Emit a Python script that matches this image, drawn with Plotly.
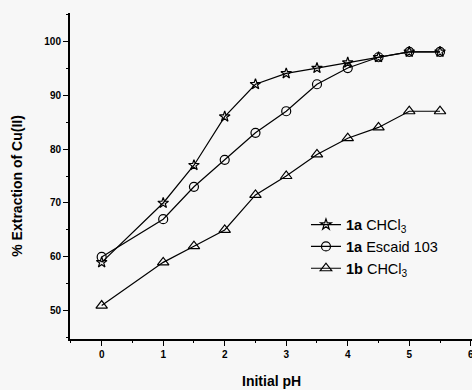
import plotly.graph_objects as go

ph = [0, 1, 1.5, 2, 2.5, 3, 3.5, 4, 4.5, 5, 5.5]
ext_1a_chcl3 = [59, 70, 77, 86, 92, 94, 95, 96, 97, 98, 98]
ext_1a_escaid = [60, 67, 73, 78, 83, 87, 92, 95, 97, 98, 98]
ext_1b_chcl3 = [51, 59, 62, 65, 71.5, 75, 79, 82, 84, 87, 87]

names = ["<b>1a</b> CHCl<sub>3</sub>", "<b>1a</b> Escaid 103", "<b>1b</b> CHCl<sub>3</sub>"]
symbols = ["star-open", "circle-open", "triangle-up-open"]
sizes = [8, 9, 10]
series = [ext_1a_chcl3, ext_1a_escaid, ext_1b_chcl3]

x_ticks = [0, 1, 2, 3, 4, 5, 6]
y_ticks = [50, 60, 70, 80, 90, 100]

fig = go.Figure()
for name, sym, sz, ys in zip(names, symbols, sizes, series):
    fig.add_trace(go.Scatter(
        x=ph, y=ys, name=name, mode="lines+markers",
        line=dict(color="black", width=1.2),
        marker=dict(symbol=sym, size=sz, color="black", line=dict(color="black", width=1.2)),
    ))

bg = "#f7f7f7"
fig.update_layout(
    width=472, height=390,
    margin=dict(l=70, r=0, t=13, b=51, autoexpand=False),
    paper_bgcolor=bg, plot_bgcolor=bg,
    font=dict(family="Liberation Sans, Arial, sans-serif", color="black"),
    showlegend=True,
    legend=dict(x=0.587, y=0.40, xanchor="left", yanchor="top",
                bgcolor="rgba(0,0,0,0)", font=dict(size=14.5), itemwidth=30,
                tracegroupgap=0),
    xaxis=dict(
        range=[-0.515, 6.02], tickvals=x_ticks, ticktext=[str(v) for v in x_ticks],
        showgrid=False, zeroline=False, showline=True, linecolor="black", linewidth=2,
        ticks="outside", ticklen=5, tickwidth=1.2, tickcolor="black",
        ticklabeloverflow="allow",
        tickfont=dict(size=10, family="Liberation Sans, Arial", weight="bold"),
        minor=dict(ticks="outside", ticklen=2, dtick=0.5, tick0=0, tickcolor="black", tickwidth=1),
    ),
    yaxis=dict(
        range=[44.8, 105.2], tickvals=y_ticks, ticktext=[str(v) for v in y_ticks],
        showgrid=False, zeroline=False, showline=True, linecolor="black", linewidth=2,
        ticks="outside", ticklen=5, tickwidth=1.2, tickcolor="black",
        tickfont=dict(size=10, family="Liberation Sans, Arial", weight="bold"),
        minor=dict(ticks="outside", ticklen=2, dtick=5, tick0=0, tickcolor="black", tickwidth=1),
    ),
    annotations=[
        dict(text="<b>Initial pH</b>", xref="paper", yref="paper", x=0.5, y=-0.129,
             xanchor="center", yanchor="middle", showarrow=False, font=dict(size=14)),
        dict(text="<b>% Extraction of Cu(II)</b>", xref="paper", yref="paper", x=-0.132, y=0.47,
             xanchor="center", yanchor="middle", textangle=-90, showarrow=False, font=dict(size=14)),
    ],
)

fig.write_html("out.html", config={"displayModeBar": False},
               post_script="document.body.style.margin='0';")
